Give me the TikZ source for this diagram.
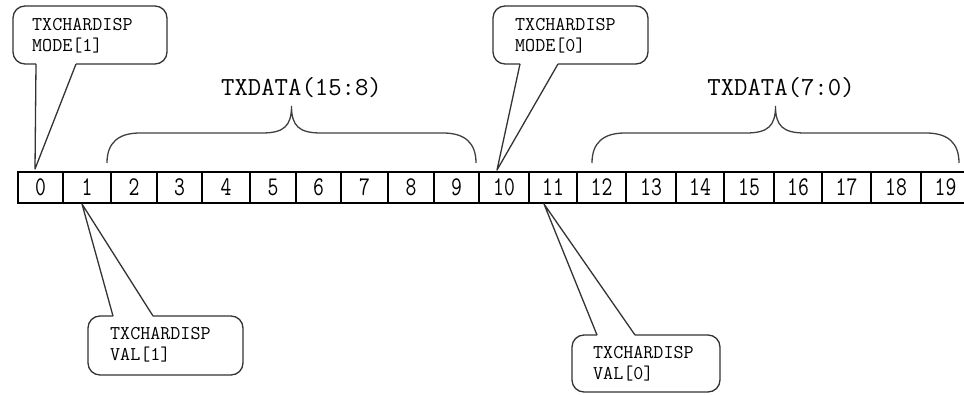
\documentclass[tikz,border=0pt]{standalone}
\usepackage{fontspec}
\usepackage{graphicx}
\begin{document}
\begin{tikzpicture}[x=1pt,y=-1pt,
  cell/.style={draw=black, line width=1.2pt, minimum height=31pt, inner sep=0pt,
    outer sep=0pt, font=\ttfamily\fontsize{27}{27}\selectfont},
  callout/.style={draw=black!80, line width=1.3pt, line join=round},
  bracket/.style={draw=black!75, line width=1.3pt},
  note/.style={anchor=north west, inner sep=0pt, align=left,
    font=\ttfamily\fontsize{19.5}{21}\selectfont},
  bus/.style={inner sep=0pt, font=\ttfamily\fontsize{26}{26}\selectfont}]
\useasboundingbox (0,0) rectangle (964,395);

% register cells 0..19
\foreach \i/\l/\r in {0/18/63, 1/63/111, 2/111/157, 3/157/202, 4/202/250,
    5/250/296, 6/296/341, 7/341/388, 8/388/434, 9/434/479, 10/479/529,
    11/529/577, 12/577/626, 13/626/676, 14/676/724, 15/724/774, 16/774/822,
    17/822/871, 18/871/921, 19/921/970}{
  \pgfmathsetmacro\w{\r-\l}
  \pgfmathsetmacro\m{(\l+\r)/2}
  \node[cell, minimum width=\w pt] (c\i) at (\m,187.5) {\scalebox{0.78}[1]{\i}};
}

% data field brackets
\draw[bracket] (107,163) .. controls (107,143) and (118,133) .. (140,133) -- (262,133)
  .. controls (284,133) and (291.5,126) .. (291.5,106)
  .. controls (291.5,126) and (299,133) .. (321,133) -- (443,133)
  .. controls (465,133) and (476,143) .. (476,163);
\node[bus] (hi) at (301.5,88) {TXDATA(15:8)};

\draw[bracket] (592,163) .. controls (592,143) and (603,133) .. (625,133) -- (746,133)
  .. controls (768,133) and (775.5,126) .. (775.5,106)
  .. controls (775.5,126) and (783,133) .. (805,133) -- (926,133)
  .. controls (948,133) and (959,143) .. (959,163);
\node[bus] (lo) at (781,88) {TXDATA(7:0)};

% callout: mode bit 1
\coordinate (t1) at (35,169);
\draw[callout, rounded corners=12] (36,64) -- (13,64) -- (13,6) -- (167,6) -- (167,64) -- (76,64);
\draw[callout] (36,64) -- (t1) -- (76,64);
\node[note] (m1) at (32,18) {TXCHARDISP\\MODE[1]};

% callout: mode bit 0
\coordinate (t0) at (497,170);
\draw[callout, rounded corners=12] (520,64) -- (493,64) -- (493,6) -- (648,6) -- (648,64) -- (558,64);
\draw[callout] (520,64) -- (t0) -- (558,64);
\node[note] (m0) at (515,18) {TXCHARDISP\\MODE[0]};

% callout: value bit 1
\coordinate (v1t) at (82,204);
\draw[callout, rounded corners=12] (113,316) -- (88,316) -- (88,375) -- (243,375) -- (243,316) -- (153,316);
\draw[callout] (113,316) -- (v1t) -- (153,316);
\node[note] (v1) at (110,327) {TXCHARDISP\\VAL[1]};

% callout: value bit 0
\coordinate (v0t) at (544,204);
\draw[callout, rounded corners=12] (597,335) -- (572,335) -- (572,392) -- (720,392) -- (720,335) -- (635,335);
\draw[callout] (597,335) -- (v0t) -- (635,335);
\node[note] (v0) at (593,346) {TXCHARDISP\\VAL[0]};
\end{tikzpicture}
\end{document}
